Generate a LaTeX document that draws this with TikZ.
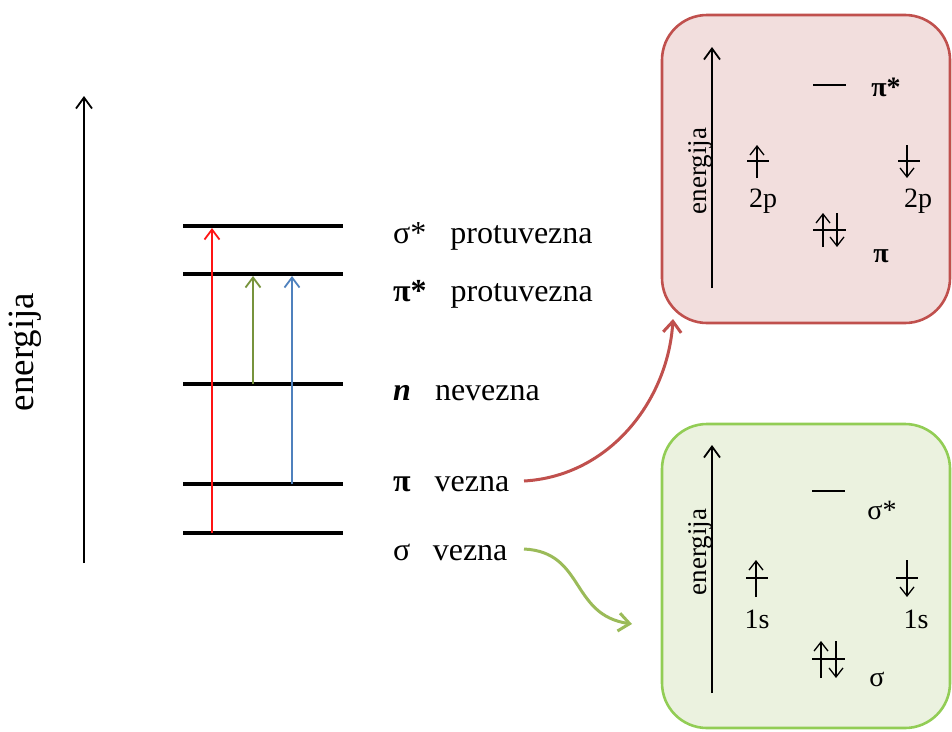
\documentclass[tikz,border=0pt]{standalone}
\usepackage{fontspec}
\setmainfont{Liberation Serif}
\usetikzlibrary{arrows.meta}
\definecolor{trred}{RGB}{255,20,20}
\definecolor{trgreen}{RGB}{119,147,60}
\definecolor{trblue}{RGB}{79,129,189}
\definecolor{curvered}{RGB}{192,80,77}
\definecolor{curvegreen}{RGB}{155,187,89}
\definecolor{boxredfill}{RGB}{242,222,221}
\definecolor{boxgreenfill}{RGB}{235,242,223}
\definecolor{boxgreenline}{RGB}{146,205,85}
\begin{document}
\begin{tikzpicture}[x=1pt,y=-1pt,
  axis/.style={line width=1.8pt,-{Straight Barb[length=11pt,width=16pt,line width=1.8pt]}},
  level/.style={line width=4pt},
  trans/.style={line width=1.8pt,-{Straight Barb[length=10pt,width=15pt,line width=1.8pt]}},
  spin/.style={line width=1.3pt,-{Straight Barb[length=9pt,width=14pt,line width=1.3pt]}},
  orb/.style={line width=1.4pt},
  biglab/.style={font=\fontsize{32}{36}\selectfont, anchor=base west, inner sep=0pt},
  boxlab/.style={font=\fontsize{28}{32}\selectfont, inner sep=0pt},
  link/.style={line width=3pt,-{Straight Barb[length=11pt,width=18pt,line width=3pt]}},
  mobox/.style={line width=2.6pt, rounded corners=45pt, minimum width=288pt, minimum height=308pt, inner sep=0pt}
]
\useasboundingbox (0,0) rectangle (952,731);

% ---------- left diagram ----------
\coordinate (axb) at (84,563);
\coordinate (axt) at (84,96);
\draw[axis] (axb) -- (axt);
\node[rotate=90, font=\fontsize{37}{40}\selectfont, inner sep=0pt] (en) at (25,352) {energija};

\foreach \n/\y in {ss/226, ps/274, nn/384, pp/484, sb/533}{
  \coordinate (\n L) at (183,\y);
  \coordinate (\n R) at (343,\y);
  \draw[level] (\n L) -- (\n R);
}
\coordinate (r0) at (212,533); \coordinate (r1) at (212,228);
\coordinate (g0) at (253,384); \coordinate (g1) at (253,276);
\coordinate (b0) at (292,484); \coordinate (b1) at (292,276);
\draw[trans, trred] (r0) -- (r1);
\draw[trans, trgreen] (g0) -- (g1);
\draw[trans, trblue] (b0) -- (b1);

\node[biglab] (l1) at (393,243) {σ*\hspace{0.75em}protuvezna};
\node[biglab] (l2) at (393,301) {\textbf{π*}\hspace{0.75em}protuvezna};
\node[biglab] (l3) at (393,400) {\textbf{\textit{n}}\hspace{0.75em}nevezna};
\node[biglab] (l4) at (393,491) {\textbf{π}\hspace{0.75em}vezna};
\node[biglab] (l5) at (393,560) {σ\hspace{0.7em}vezna};

% ---------- top box (pi) ----------
\node[mobox, draw=curvered, fill=boxredfill] (topbox) at (806,169) {};
\draw[axis] (712,288) -- (712,47);
\node[rotate=90, font=\fontsize{27}{30}\selectfont, inner sep=0pt] (en2) at (700,171) {energija};
\draw[orb] (813,85) -- (846,85);
\node[boxlab, font=\fontsize{28}{32}\selectfont\bfseries] (pis) at (886,87) {π*};
\draw[orb] (747,161) -- (769,161);
\draw[spin] (757,178) -- (757,145);
\node[boxlab] (p2l) at (763,201) {2p};
\draw[orb] (898,161) -- (920,161);
\draw[spin] (907,145) -- (907,178);
\node[boxlab] (p2r) at (918,201) {2p};
\draw[orb] (813,230) -- (846,230);
\draw[spin] (823,247) -- (823,213);
\draw[spin] (837,213) -- (837,247);
\node[boxlab, font=\fontsize{28}{32}\selectfont\bfseries] (pib) at (881,256) {π};

% ---------- bottom box (sigma) ----------
\node[mobox, draw=boxgreenline, fill=boxgreenfill, minimum height=304pt] (botbox) at (806,576) {};
\draw[axis] (712,693) -- (712,445);
\node[rotate=90, font=\fontsize{27}{30}\selectfont, inner sep=0pt] (en3) at (700,552) {energija};
\draw[orb] (812,491) -- (845,491);
\node[boxlab] (sis) at (882,510) {σ*};
\draw[orb] (746,578) -- (768,578);
\draw[spin] (756,597) -- (756,560);
\node[boxlab] (s1l) at (757,619) {1s};
\draw[orb] (896,578) -- (918,578);
\draw[spin] (907,560) -- (907,597);
\node[boxlab] (s1r) at (916,619) {1s};
\draw[orb] (812,659) -- (845,659);
\draw[spin] (821,678) -- (821,641);
\draw[spin] (836,641) -- (836,678);
\node[boxlab] (sib) at (877,679) {σ};

% ---------- connectors ----------
\coordinate (redstart) at (524,481);
\coordinate (greenstart) at (524,549);
\coordinate (redend) at (673,319);
\coordinate (greenend) at (632,624);
\draw[link, curvered] (redstart) .. controls (610,476) and (668,400) .. (redend);
\draw[link, curvegreen] (greenstart) .. controls (585,552) and (570,615) .. (greenend);
\end{tikzpicture}
\end{document}
